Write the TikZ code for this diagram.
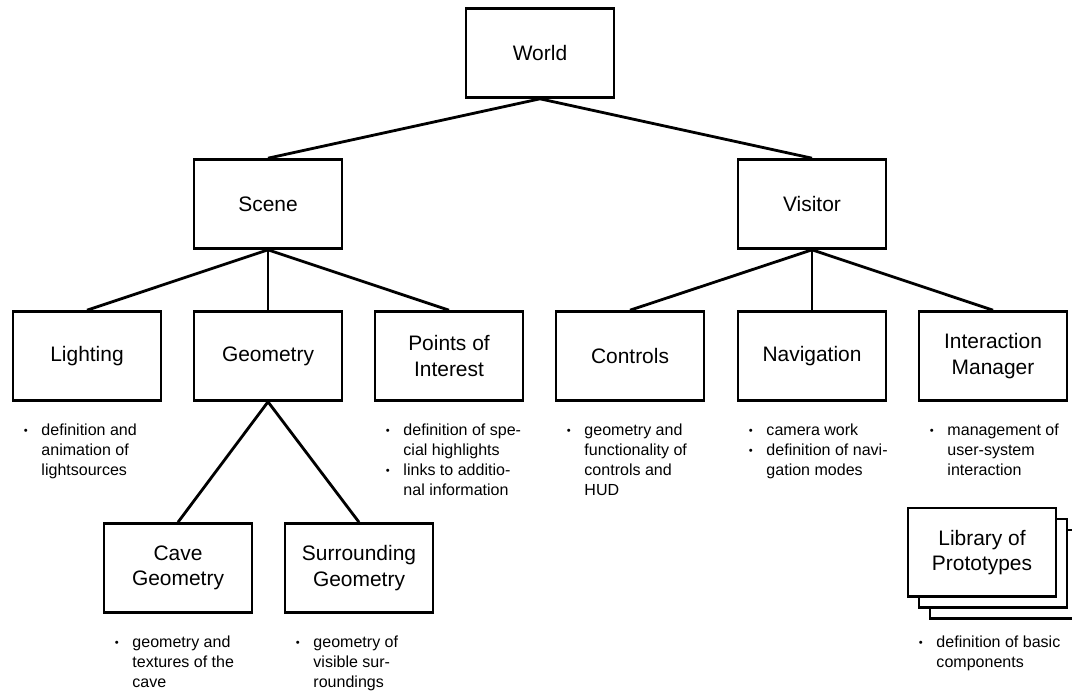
\documentclass[tikz,border=0pt]{standalone}
\usepackage{fontspec}
\setmainfont{Liberation Sans}
\usetikzlibrary{positioning}
\newcommand{\notedot}{\makebox[0.44cm][l]{\raisebox{0.15ex}{\scalebox{0.7}{\textbullet}}}}
\newcommand{\noteind}{\hspace*{0.44cm}}
\tikzset{
  part/.style={draw, line width=2pt, minimum width=3.7cm,
               minimum height=2.22cm, fill=white, align=center,
               font=\fontsize{14.9}{18}\selectfont},
  notes/.style={inner sep=0pt, align=left,
                font=\fontsize{11.4}{14.2}\selectfont},
  link/.style={line width=2pt},
}

\begin{document}
\begin{tikzpicture}
  \useasboundingbox (0,0) rectangle (26.8,-17.25);

  % Top levels
  \node[part] (world) at (13.5,-1.325) {World};
  \node[part] (scene) at (6.7,-5.1) {Scene};
  \node[part] (visitor) at (20.3,-5.1) {Visitor};

  % Scene parts
  \node[part] (lighting) at (2.175,-8.9) {Lighting};
  \node[part] (geometry) at (6.7,-8.9) {Geometry};
  \node[part] (interest) at (11.225,-8.9) {Points of\\Interest};

  % Visitor parts
  \node[part] (controls) at (15.75,-8.9) {Controls};
  \node[part] (navigation) at (20.3,-8.9) {Navigation};
  \node[part] (manager) at (24.825,-8.9) {Interaction\\Manager};

  % Geometry parts
  \node[part] (cave) at (4.45,-14.2) {Cave\\Geometry};
  \node[part] (surround) at (8.975,-14.2) {Surrounding\\Geometry};

  % Library stack
  \node[part] (libback2) at (25.1,-14.36) {};
  \node[part] (libback1) at (24.825,-14.085) {};
  \node[part] (library) at (24.55,-13.81) {Library of\\Prototypes};

  % Links
  \draw[link] (world.south) -- (scene.north);
  \draw[link] (world.south) -- (visitor.north);
  \draw[link] (scene.south) -- (lighting.north);
  \draw[link] (scene.south) -- (geometry.north);
  \draw[link] (scene.south) -- (interest.north);
  \draw[link] (visitor.south) -- (controls.north);
  \draw[link] (visitor.south) -- (navigation.north);
  \draw[link] (visitor.south) -- (manager.north);
  \draw[link] (geometry.south) -- (cave.north);
  \draw[link] (geometry.south) -- (surround.north);

  % Notes
  \node[notes, below right=0.55cm and 0.3cm of lighting.south west] (lightingnotes)
    {\notedot definition and\\\noteind animation of\\\noteind lightsources};
  \node[notes, below right=0.55cm and 0.3cm of interest.south west] (interestnotes)
    {\notedot definition of spe-\\\noteind cial highlights\\
     \notedot links to additio-\\\noteind nal information};
  \node[notes, below right=0.55cm and 0.3cm of controls.south west] (controlsnotes)
    {\notedot geometry and\\\noteind functionality of\\\noteind controls and\\\noteind HUD};
  \node[notes, below right=0.55cm and 0.3cm of navigation.south west] (navigationnotes)
    {\notedot camera work\\\notedot definition of navi-\\\noteind gation modes};
  \node[notes, below right=0.55cm and 0.3cm of manager.south west] (managernotes)
    {\notedot management of\\\noteind user-system\\\noteind interaction};
  \node[notes, below right=0.55cm and 0.3cm of cave.south west] (cavenotes)
    {\notedot geometry and\\\noteind textures of the\\\noteind cave};
  \node[notes, below right=0.55cm and 0.3cm of surround.south west] (surroundnotes)
    {\notedot geometry of\\\noteind visible sur-\\\noteind roundings};
  \node[notes, below right=0.93cm and 0.3cm of library.south west] (librarynotes)
    {\notedot definition of basic\\\noteind components};
\end{tikzpicture}
\end{document}
